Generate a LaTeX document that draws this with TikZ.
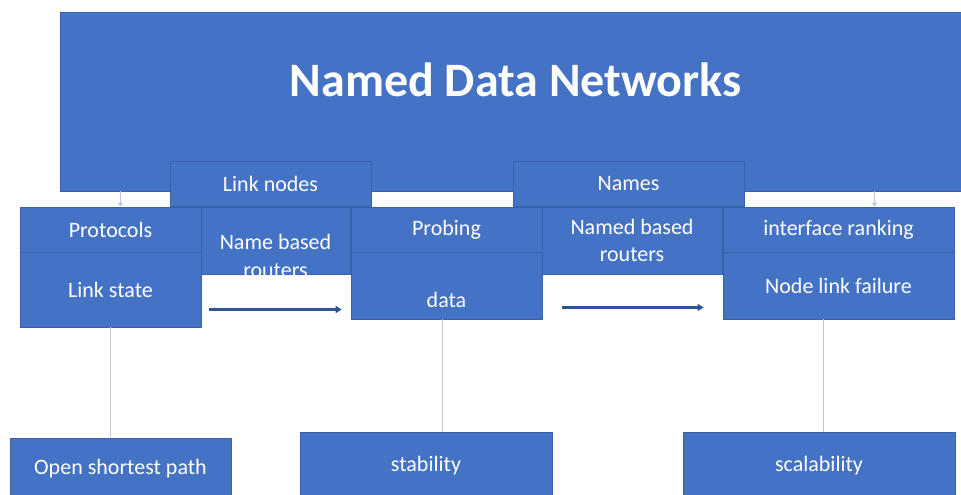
\documentclass[tikz,border=0pt]{standalone}
\usepackage{fontspec}
\setmainfont{Carlito}
\definecolor{ndnblue}{HTML}{4472C4}
\definecolor{ndnedge}{HTML}{3A62AC}
\definecolor{ndnarrow}{HTML}{2F5597}
\definecolor{ndnline}{HTML}{BCC8E6}
\usetikzlibrary{arrows.meta, positioning, calc}

\begin{document}
\begin{tikzpicture}[x=1pt, y=-1pt,
  box/.style={draw=ndnedge, line width=0.6pt, fill=ndnblue, text=white, inner sep=0pt,
    font=\fontsize{22}{27}\selectfont, align=center},
  boxtext/.style={text=white, font=\fontsize{22}{28}\selectfont, align=center, inner sep=0pt},
  flow/.style={draw=ndnarrow, line width=2.4pt, -{Triangle[length=6pt, width=7pt]}},
  tick/.style={draw=ndnline, line width=0.9pt, -{Triangle[length=4pt, width=5pt]}},
  stem/.style={draw=ndnline, line width=0.9pt}]
  \clip (0,0) rectangle (961,495);

  % title block
  \node[box, minimum width=935pt, minimum height=179pt,
    label={[boxtext, font=\fontsize{48}{56}\selectfont\bfseries, xshift=-12pt, yshift=22pt]center:Named Data Networks}]
    (ndn) at (527.5,101.5) {};
  \node[box, minimum width=201pt, minimum height=45pt] (linkn) at (270.5,183.5) {Link nodes};
  \node[box, minimum width=231pt, minimum height=45pt] (names) at (628.5,183.5) {Names};

  % second row
  \node[box, minimum width=181pt, minimum height=45pt] (proto) at (110.5,229.5) {Protocols};
  \node[box, minimum width=181pt, minimum height=75pt] (lstate) at (110.5,289.5) {Link state};
  \node[box, minimum width=149pt, minimum height=67pt,
    label={[boxtext, yshift=-15pt]center:Name based\\routers}] (nbr) at (275.5,240.5) {};
  \node[box, minimum width=191pt, minimum height=45pt] (probe) at (446.5,229.5) {Probing};
  \node[box, minimum width=191pt, minimum height=67pt,
    label={[boxtext, yshift=-14pt]center:data}] (data) at (446.5,285.5) {};
  \node[box, minimum width=180pt, minimum height=67pt] (nmbr) at (632,240.5) {Named based\\routers};
  \node[box, minimum width=231pt, minimum height=45pt] (iface) at (838.5,229.5) {interface ranking};
  \node[box, minimum width=231pt, minimum height=67pt] (nlf) at (838.5,285.5) {Node link failure};

  % bottom row
  \node[box, minimum width=221pt, minimum height=62pt] (osp) at (120.5,469) {Open shortest path};
  \node[box, minimum width=252pt, minimum height=68pt] (stab) at (426,466) {stability};
  \node[box, minimum width=272pt, minimum height=68pt] (scal) at (819,466) {scalability};

  % connectors
  \draw[tick] ([xshift=10pt]proto.north |- ndn.south) -- ([xshift=10pt]proto.north);
  \draw[tick] ([xshift=36pt]iface.north |- ndn.south) -- ([xshift=36pt]iface.north);
  \draw[flow] ([shift={(8,20)}]lstate.east) -- ([shift={(-9,20)}]lstate.east -| data.west);
  \draw[flow] ([shift={(20,22)}]data.east) -- ([shift={(-19,22)}]data.east -| nlf.west);
  \draw[stem] (lstate.south) -- (lstate.south |- osp.north);
  \draw[stem] ([xshift=-4pt]data.south) -- ([xshift=-4pt]data.south |- stab.north);
  \draw[stem] ([xshift=4pt]scal.north |- nlf.south) -- ([xshift=4pt]scal.north);
\end{tikzpicture}
\end{document}
